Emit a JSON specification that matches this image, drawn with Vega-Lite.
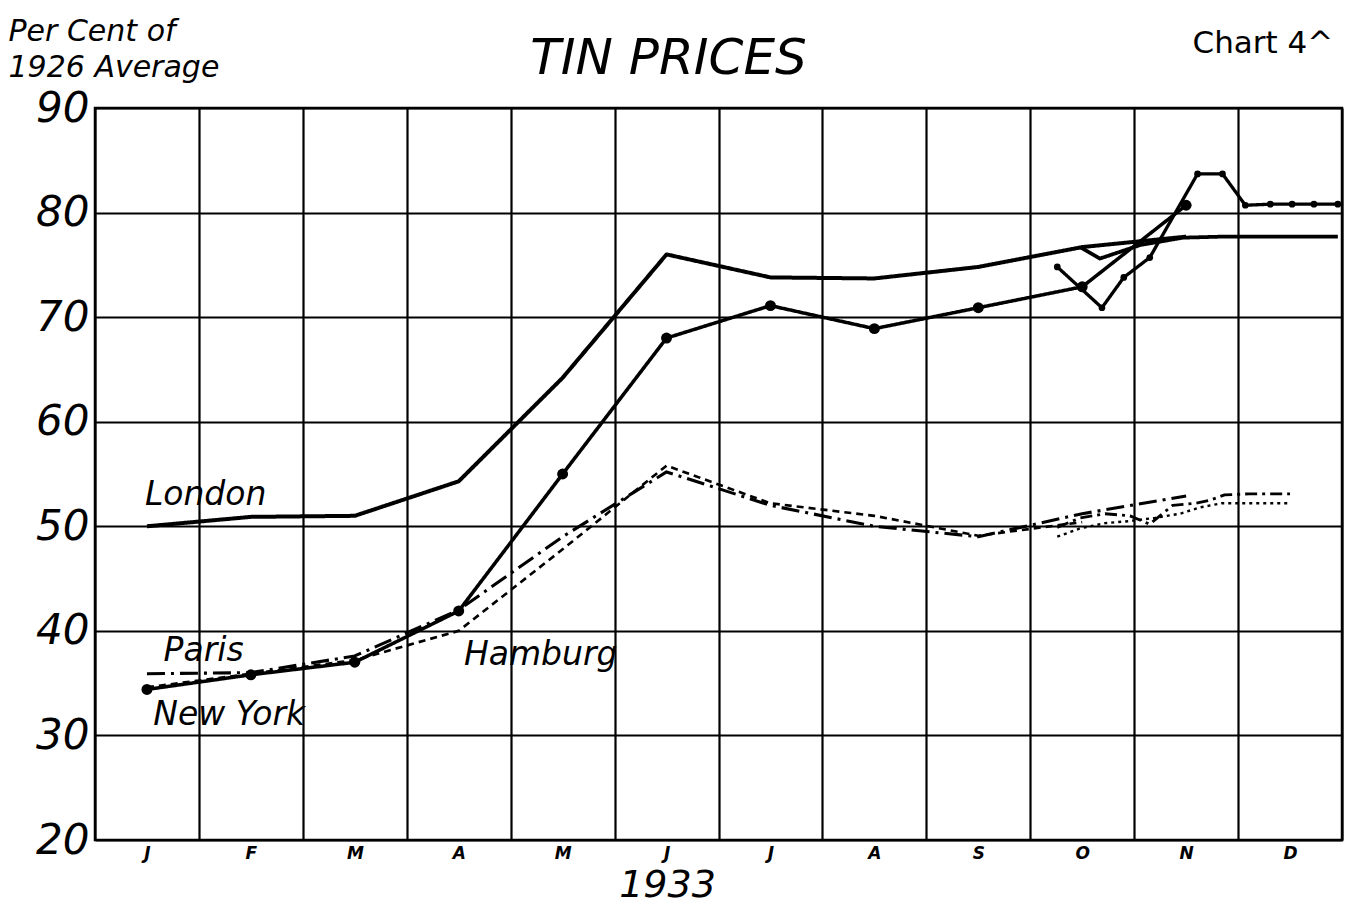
{
  "$schema": "https://vega.github.io/schema/vega-lite/v6.json",
  "width": 1247,
  "height": 732,
  "autosize": {"type": "none"},
  "padding": {"left": 95, "top": 108, "right": 24, "bottom": 79},
  "background": "white",
  "config": {
    "font": "DejaVu Sans",
    "view": {"stroke": "black", "strokeWidth": 2.5},
    "axis": {"labelColor": "black", "titleColor": "black"}
  },
  "title": {
    "text": "TIN PRICES",
    "fontSize": 50,
    "fontStyle": "italic",
    "fontWeight": "normal",
    "color": "black",
    "anchor": "middle",
    "dx": -50,
    "offset": -68
  },
  "datasets": {
    "prices": [
      {"s": "London", "m": 0.5, "v": 50.0},
      {"s": "London", "m": 1.5, "v": 50.9},
      {"s": "London", "m": 2.5, "v": 51.0},
      {"s": "London", "m": 3.5, "v": 54.3},
      {"s": "London", "m": 4.5, "v": 64.2},
      {"s": "London", "m": 5.5, "v": 76.0},
      {"s": "London", "m": 6.5, "v": 73.8},
      {"s": "London", "m": 7.5, "v": 73.7},
      {"s": "London", "m": 8.5, "v": 74.8},
      {"s": "London", "m": 9.5, "v": 76.7},
      {"s": "London", "m": 10.5, "v": 77.7},
      {"s": "London weekly", "m": 9.48, "v": 76.7},
      {"s": "London weekly", "m": 9.67, "v": 75.6},
      {"s": "London weekly", "m": 10.06, "v": 76.9},
      {"s": "London weekly", "m": 10.47, "v": 77.6},
      {"s": "London weekly", "m": 10.85, "v": 77.7},
      {"s": "London weekly", "m": 11.07, "v": 77.7},
      {"s": "London weekly", "m": 11.31, "v": 77.7},
      {"s": "London weekly", "m": 11.52, "v": 77.7},
      {"s": "London weekly", "m": 11.73, "v": 77.7},
      {"s": "London weekly", "m": 11.96, "v": 77.7},
      {"s": "New York", "m": 0.5, "v": 34.4},
      {"s": "New York", "m": 1.5, "v": 35.8},
      {"s": "New York", "m": 2.5, "v": 37.0},
      {"s": "New York", "m": 3.5, "v": 41.9},
      {"s": "New York", "m": 4.5, "v": 55.0},
      {"s": "New York", "m": 5.5, "v": 68.0},
      {"s": "New York", "m": 6.5, "v": 71.1},
      {"s": "New York", "m": 7.5, "v": 68.9},
      {"s": "New York", "m": 8.5, "v": 70.9},
      {"s": "New York", "m": 9.5, "v": 72.9},
      {"s": "New York", "m": 10.5, "v": 80.7},
      {"s": "New York weekly", "m": 9.26, "v": 74.8},
      {"s": "New York weekly", "m": 9.69, "v": 70.9},
      {"s": "New York weekly", "m": 9.9, "v": 73.8},
      {"s": "New York weekly", "m": 10.15, "v": 75.7},
      {"s": "New York weekly", "m": 10.61, "v": 83.7},
      {"s": "New York weekly", "m": 10.85, "v": 83.7},
      {"s": "New York weekly", "m": 11.07, "v": 80.7},
      {"s": "New York weekly", "m": 11.31, "v": 80.8},
      {"s": "New York weekly", "m": 11.52, "v": 80.8},
      {"s": "New York weekly", "m": 11.73, "v": 80.8},
      {"s": "New York weekly", "m": 11.96, "v": 80.8},
      {"s": "Paris", "m": 0.5, "v": 35.9},
      {"s": "Paris", "m": 1.5, "v": 36.0},
      {"s": "Paris", "m": 2.5, "v": 37.6},
      {"s": "Paris", "m": 3.5, "v": 42.0},
      {"s": "Paris", "m": 4.5, "v": 49.0},
      {"s": "Paris", "m": 5.5, "v": 55.2},
      {"s": "Paris", "m": 6.5, "v": 52.0},
      {"s": "Paris", "m": 7.5, "v": 50.0},
      {"s": "Paris", "m": 8.5, "v": 49.0},
      {"s": "Paris", "m": 9.5, "v": 51.2},
      {"s": "Paris", "m": 10.5, "v": 52.9},
      {"s": "Paris weekly", "m": 9.26, "v": 49.9},
      {"s": "Paris weekly", "m": 9.48, "v": 50.8},
      {"s": "Paris weekly", "m": 9.72, "v": 51.2},
      {"s": "Paris weekly", "m": 9.96, "v": 51.0},
      {"s": "Paris weekly", "m": 10.15, "v": 50.2},
      {"s": "Paris weekly", "m": 10.37, "v": 52.0},
      {"s": "Paris weekly", "m": 10.59, "v": 52.2},
      {"s": "Paris weekly", "m": 10.73, "v": 52.5},
      {"s": "Paris weekly", "m": 10.87, "v": 53.0},
      {"s": "Paris weekly", "m": 11.11, "v": 53.1},
      {"s": "Paris weekly", "m": 11.31, "v": 53.1},
      {"s": "Paris weekly", "m": 11.5, "v": 53.1},
      {"s": "Hamburg", "m": 0.5, "v": 34.6},
      {"s": "Hamburg", "m": 1.5, "v": 35.9},
      {"s": "Hamburg", "m": 2.5, "v": 37.2},
      {"s": "Hamburg", "m": 3.5, "v": 40.0},
      {"s": "Hamburg", "m": 4.5, "v": 47.8},
      {"s": "Hamburg", "m": 5.5, "v": 55.8},
      {"s": "Hamburg", "m": 6.5, "v": 52.2},
      {"s": "Hamburg", "m": 7.5, "v": 51.0},
      {"s": "Hamburg", "m": 8.5, "v": 49.1},
      {"s": "Hamburg", "m": 9.5, "v": 50.4},
      {"s": "Hamburg weekly", "m": 9.26, "v": 49.0},
      {"s": "Hamburg weekly", "m": 9.48, "v": 49.8},
      {"s": "Hamburg weekly", "m": 9.72, "v": 50.3},
      {"s": "Hamburg weekly", "m": 9.96, "v": 50.5},
      {"s": "Hamburg weekly", "m": 10.2, "v": 50.8},
      {"s": "Hamburg weekly", "m": 10.44, "v": 51.2},
      {"s": "Hamburg weekly", "m": 10.63, "v": 51.8},
      {"s": "Hamburg weekly", "m": 10.84, "v": 52.2},
      {"s": "Hamburg weekly", "m": 11.07, "v": 52.2},
      {"s": "Hamburg weekly", "m": 11.29, "v": 52.2},
      {"s": "Hamburg weekly", "m": 11.5, "v": 52.2}
    ],
    "labels": [
      {"label": "London", "m": 0.48, "v": 53.0},
      {"label": "Paris", "m": 0.66, "v": 38.1},
      {"label": "New York", "m": 0.56, "v": 32.0},
      {"label": "Hamburg", "m": 3.55, "v": 37.7}
    ]
  },
  "resolve": {"axis": {"y": "independent"}},
  "layer": [
    {
      "data": {"name": "prices"},
      "mark": {"type": "line", "color": "black", "strokeCap": "butt", "strokeJoin": "round"},
      "encoding": {
        "x": {
          "field": "m",
          "type": "quantitative",
          "scale": {"domain": [0, 12], "nice": false, "zero": false},
          "axis": {
            "values": [0, 1, 2, 3, 4, 5, 6, 7, 8, 9, 10, 11, 12],
            "grid": true,
            "gridColor": "black",
            "gridWidth": 2.2,
            "gridOpacity": 1,
            "domain": false,
            "ticks": false,
            "labelExpr": "['J','F','M','A','M','J','J','A','S','O','N','D',''][datum.value]",
            "labelOffset": 52,
            "labelFlush": false,
            "labelOverlap": false,
            "labelFontSize": 17,
            "labelFontWeight": "bold",
            "labelFontStyle": "italic",
            "labelPadding": 5,
            "title": "1933",
            "titleFontSize": 38,
            "titleFontStyle": "italic",
            "titleFontWeight": "normal",
            "titlePadding": 5,
            "titleX": 572
          }
        },
        "y": {
          "field": "v",
          "type": "quantitative",
          "scale": {"domain": [20, 90], "nice": false, "zero": false},
          "axis": {
            "values": [20, 30, 40, 50, 60, 70, 80, 90],
            "grid": true,
            "gridColor": "black",
            "gridWidth": 2.2,
            "gridOpacity": 1,
            "domain": false,
            "ticks": false,
            "labelFontSize": 42,
            "labelFontStyle": "italic",
            "labelPadding": 6,
            "title": ["Per Cent of", "1926 Average"],
            "titleAngle": 0,
            "titleAlign": "left",
            "titleBaseline": "top",
            "titleX": -87,
            "titleY": -92,
            "titleFontSize": 30,
            "titleFontStyle": "italic",
            "titleFontWeight": "normal",
            "titleLineHeight": 36
          }
        },
        "detail": {"field": "s"},
        "strokeDash": {
          "field": "s",
          "type": "nominal",
          "scale": {
            "domain": ["London", "London weekly", "New York", "New York weekly", "Paris", "Paris weekly", "Hamburg", "Hamburg weekly"],
            "range": [[1, 0], [1, 0], [1, 0], [1, 0], [18, 6, 3, 6], [12, 5, 3, 5], [7, 5], [3, 4]]
          },
          "legend": null
        },
        "strokeWidth": {
          "field": "s",
          "type": "nominal",
          "scale": {
            "domain": ["London", "London weekly", "New York", "New York weekly", "Paris", "Paris weekly", "Hamburg", "Hamburg weekly"],
            "range": [4, 2.4, 4, 2.4, 3, 3, 3, 3]
          },
          "legend": null
        }
      }
    },
    {
      "data": {"name": "prices"},
      "transform": [{"filter": "datum.s === 'New York'"}],
      "mark": {"type": "point", "filled": true, "color": "black", "opacity": 1, "size": 120},
      "encoding": {
        "x": {"field": "m", "type": "quantitative"},
        "y": {
          "field": "v",
          "type": "quantitative",
          "axis": {
            "orient": "right",
            "labels": false,
            "ticks": false,
            "domain": false,
            "grid": false,
            "title": "Chart 4^",
            "titleAngle": 0,
            "titleAlign": "left",
            "titleBaseline": "top",
            "titleX": -150,
            "titleY": -80,
            "titleFontSize": 31,
            "titleFontWeight": "normal",
            "titleFontStyle": "normal"
          }
        }
      }
    },
    {
      "data": {"name": "prices"},
      "transform": [{"filter": "datum.s === 'New York weekly'"}],
      "mark": {"type": "point", "filled": true, "color": "black", "opacity": 1, "size": 45},
      "encoding": {
        "x": {"field": "m", "type": "quantitative"},
        "y": {"field": "v", "type": "quantitative", "axis": null}
      }
    },
    {
      "data": {"name": "labels"},
      "mark": {"type": "text", "align": "left", "baseline": "middle", "fontSize": 33, "fontStyle": "italic", "color": "black"},
      "encoding": {
        "x": {"field": "m", "type": "quantitative"},
        "y": {"field": "v", "type": "quantitative", "axis": null},
        "text": {"field": "label"}
      }
    }
  ]
}
